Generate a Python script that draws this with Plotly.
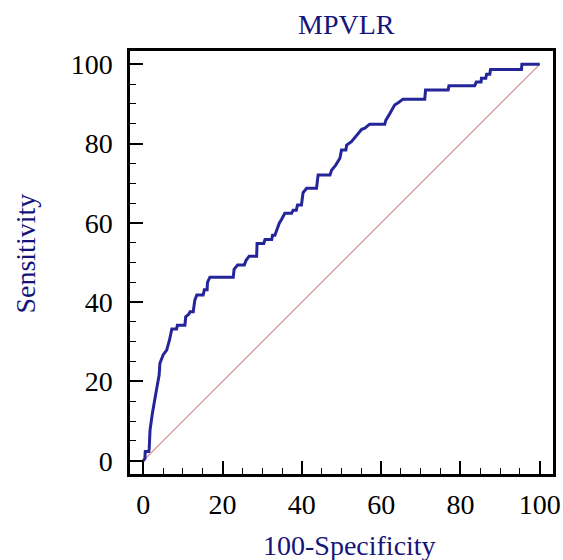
import plotly.graph_objects as go

# ROC curve vertices (100-Specificity, Sensitivity)
fpr = [0, 0.4, 0.5, 1.4, 1.5, 1.7, 2.3, 2.8, 3.4, 4.0, 4.2, 5.0, 5.9, 6.6, 7.2, 8.4, 8.6, 10.5,
       10.7, 11.5, 11.8, 12.6, 13.0, 13.5, 15.1, 15.4, 16.1, 16.2, 16.8, 22.7, 22.9, 23.8, 25.5,
       25.9, 26.7, 28.6, 28.7, 30.4, 30.7, 32.4, 32.6, 33.2, 33.6, 34.3, 34.9, 35.7, 37.4, 37.8,
       38.6, 38.9, 39.9, 40.3, 41.2, 43.7, 44.1, 47.1, 47.5, 48.5, 49.6, 50.0, 51.1, 51.3, 52.5,
       53.6, 54.2, 55.1, 55.9, 57.1, 60.9, 61.2, 62.2, 63.4, 64.3, 65.5, 71.0, 71.2, 76.9, 77.1,
       83.6, 84.0, 85.2, 85.3, 86.4, 86.6, 87.4, 87.6, 95.4, 95.5, 100]
sens = [0, 0.5, 2.3, 2.3, 3.1, 7.7, 12.0, 15.3, 18.3, 21.6, 24.6, 26.7, 27.9, 30.4, 33.2, 33.2, 34.2, 34.2,
        36.3, 37.0, 37.6, 37.6, 40.5, 41.8, 41.8, 43.1, 43.1, 45.0, 46.3, 46.3, 48.3, 49.4, 49.4,
        50.5, 51.6, 51.6, 54.8, 54.8, 55.8, 55.8, 56.9, 56.9, 58.2, 59.9, 60.9, 62.4, 62.4, 63.2,
        63.2, 64.5, 64.5, 67.6, 68.7, 68.7, 72.1, 72.1, 73.3, 74.5, 76.3, 78.4, 78.4, 79.6, 80.5,
        81.7, 82.6, 83.6, 83.9, 84.9, 84.9, 85.9, 87.6, 89.7, 90.3, 91.2, 91.2, 93.5, 93.5, 94.6,
        94.6, 95.5, 95.5, 96.5, 96.5, 97.5, 97.5, 98.7, 98.7, 100, 100]
diag_x = [0, 100]
diag_y = [0, 100]
tick_vals = [0, 20, 40, 60, 80, 100]
tick_text = ["0", "20", "40", "60", "80", "100"]

FONT = "Liberation Serif, Times New Roman, serif"
NAVY = "#14147a"

fig = go.Figure()
fig.add_trace(go.Scatter(x=diag_x, y=diag_y, mode="lines",
                         line=dict(color="#d28585", width=1.1), hoverinfo="skip"))
fig.add_trace(go.Scatter(x=fpr, y=sens, mode="lines",
                         line=dict(color="#25259a", width=3)))

axis_common = dict(
    range=[-3.35, 103.35], tickvals=tick_vals, ticktext=tick_text,
    ticks="inside", ticklen=13, tickwidth=2, tickcolor="black",
    showline=True, linecolor="black", linewidth=2.5, mirror=True,
    showgrid=False, zeroline=False, automargin=False,
    tickfont=dict(family=FONT, size=28, color="black"),
    minor=dict(dtick=5, tick0=0, ticks="inside", ticklen=6, tickwidth=1, tickcolor="black", showgrid=False),
)
fig.update_xaxes(**axis_common, ticklabelstandoff=4)
fig.update_yaxes(**axis_common, ticklabelstandoff=9)

fig.update_layout(
    width=563, height=560,
    margin=dict(l=130, r=10, t=51, b=86, autoexpand=False),
    paper_bgcolor="white", plot_bgcolor="white",
    showlegend=False,
    annotations=[
        dict(text="MPVLR", xref="paper", yref="paper", x=0.513, y=1.0615,
             xanchor="center", yanchor="middle", showarrow=False,
             font=dict(family=FONT, size=28, color=NAVY)),
        dict(text="100-Specificity", xref="paper", yref="paper", x=0.518, y=-0.168,
             xanchor="center", yanchor="middle", showarrow=False,
             font=dict(family=FONT, size=28, color=NAVY)),
        dict(text="Sensitivity", xref="paper", yref="paper", x=-0.247, y=0.52,
             xanchor="center", yanchor="middle", showarrow=False, textangle=-90,
             font=dict(family=FONT, size=28, color=NAVY)),
    ],
)

fig.write_html("out.html", config={"displayModeBar": False},
               post_script="document.body.style.margin='0';document.body.style.overflow='hidden';")
